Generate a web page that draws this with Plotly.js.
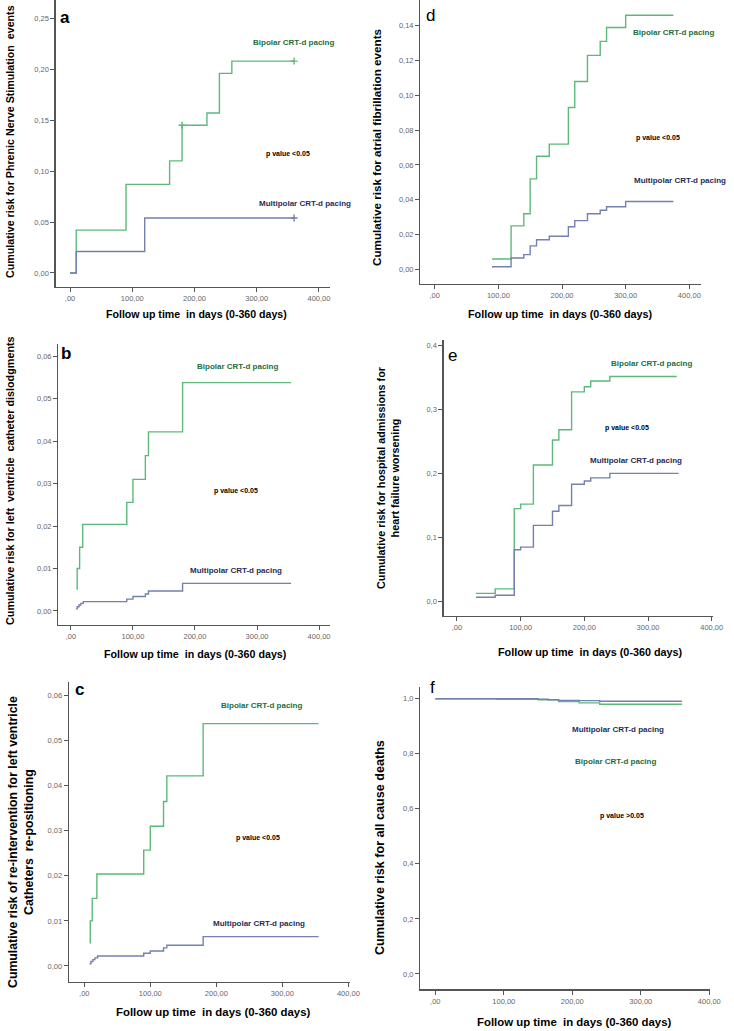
<!DOCTYPE html>
<html>
<head>
<meta charset="utf-8">
<script src="https://cdn.plot.ly/plotly-3.0.1.min.js"></script>
<style>
html,body{margin:0;padding:0;background:#fff;}
#chart{width:734px;height:1031px;}
</style>
</head>
<body>
<div id="chart"></div>
<script>
// ---------- DATA ----------
const xTickVals = [0, 100, 200, 300, 400];
const xTickText = [",00", "100,00", "200,00", "300,00", "400,00"];

// Panel a: phrenic nerve stimulation
const aBipolarDays = [0, 10, 90, 160, 180, 220, 240, 260, 360];
const aBipolarRisk = [0, 0.042, 0.087, 0.110, 0.145, 0.157, 0.196, 0.208, 0.208];
const aMultiDays = [0, 10, 120, 360];
const aMultiRisk = [0, 0.021, 0.054, 0.054];
const aBipolarCensorDays = [180, 360];
const aBipolarCensorRisk = [0.145, 0.208];
const aMultiCensorDays = [360];
const aMultiCensorRisk = [0.054];
const aYTickVals = [0, 0.05, 0.10, 0.15, 0.20, 0.25];
const aYTickText = ["0,00", "0,05", "0,10", "0,15", "0,20", "0,25"];

// Panel d: atrial fibrillation
const dBipolarDays = [90, 120, 140, 150, 160, 180, 210, 220, 240, 260, 270, 300, 375];
const dBipolarRisk = [0.006, 0.025, 0.032, 0.052, 0.065, 0.072, 0.093, 0.108, 0.123, 0.131, 0.139, 0.146, 0.146];
const dMultiDays = [90, 120, 140, 150, 160, 180, 210, 220, 240, 260, 270, 300, 375];
const dMultiRisk = [0.0015, 0.0065, 0.0085, 0.0135, 0.017, 0.019, 0.0245, 0.028, 0.032, 0.034, 0.036, 0.039, 0.039];
const dYTickVals = [0, 0.02, 0.04, 0.06, 0.08, 0.10, 0.12, 0.14];
const dYTickText = ["0,00", "0,02", "0,04", "0,06", "0,08", "0,10", "0,12", "0,14"];

// Panel b: LV catheter dislodgments
const bBipolarDays = [10, 10, 14, 19, 90, 100, 120, 125, 180, 355];
const bBipolarRisk = [0.005, 0.010, 0.015, 0.0204, 0.0256, 0.031, 0.0366, 0.0422, 0.0538, 0.0538];
const bMultiDays = [8, 10, 13, 16, 20, 90, 100, 120, 125, 180, 180, 355];
const bMultiRisk = [0.0005, 0.001, 0.0014, 0.0018, 0.0022, 0.0028, 0.0034, 0.004, 0.0047, 0.0058, 0.0065, 0.0065];
const bYTickVals = [0, 0.01, 0.02, 0.03, 0.04, 0.05, 0.06];
const bYTickText = ["0,00", "0,01", "0,02", "0,03", "0,04", "0,05", "0,06"];

// Panel c: re-intervention for LV catheter re-positioning
const cBipolarDays = [9, 9, 12, 19, 90, 100, 120, 125, 180, 355];
const cBipolarRisk = [0.005, 0.010, 0.015, 0.0204, 0.0257, 0.031, 0.0365, 0.0422, 0.0538, 0.0538];
const cMultiDays = [8, 10, 13, 16, 20, 90, 100, 120, 125, 180, 180, 355];
const cMultiRisk = [0.0005, 0.001, 0.0014, 0.0018, 0.0022, 0.0028, 0.0033, 0.004, 0.0046, 0.0058, 0.0065, 0.0065];
const cYTickVals = [0, 0.01, 0.02, 0.03, 0.04, 0.05, 0.06];
const cYTickText = ["0,00", "0,01", "0,02", "0,03", "0,04", "0,05", "0,06"];

// Panel e: hospital admissions for heart failure worsening
const eBipolarDays = [30, 60, 90, 100, 120, 150, 160, 180, 200, 210, 240, 345];
const eBipolarRisk = [0.013, 0.020, 0.145, 0.152, 0.213, 0.252, 0.268, 0.327, 0.335, 0.344, 0.351, 0.351];
const eMultiDays = [30, 60, 90, 100, 120, 150, 160, 180, 200, 210, 240, 348];
const eMultiRisk = [0.007, 0.010, 0.081, 0.085, 0.119, 0.141, 0.150, 0.183, 0.188, 0.193, 0.200, 0.200];
const eYTickVals = [0, 0.1, 0.2, 0.3, 0.4];
const eYTickText = ["0,0", "0,1", "0,2", "0,3", "0,4"];

// Panel f: all cause deaths
const fBipolarDays = [0, 90, 150, 180, 210, 240, 360];
const fBipolarRisk = [1.0, 0.998, 0.996, 0.990, 0.985, 0.980, 0.980];
const fMultiDays = [0, 150, 165, 180, 210, 240, 360];
const fMultiRisk = [1.0, 0.998, 0.996, 0.994, 0.993, 0.991, 0.991];
const fYTickVals = [0, 0.2, 0.4, 0.6, 0.8, 1.0];
const fYTickText = ["0,0", "0,2", "0,4", "0,6", "0,8", "1,0"];

// ---------- STYLE ----------
const W = 734, H = 1031;
const GREEN = "#5cb97a";
const BLUE = "#7480ad";
const GREEN_TXT = "#1d6e3e";
const BLUE_TXT = "#1f2d58";
const SANS = "'Liberation Sans', Arial, sans-serif";

function px2x(p) { return p / W; }
function px2y(p) { return 1 - p / H; }

const traces = [];
function stepTrace(idx, x, y, color, name) {
  traces.push({
    type: "scatter", mode: "lines", x: x, y: y, name: name,
    line: { shape: "hv", color: color, width: 1.4 },
    xaxis: "x" + (idx === 1 ? "" : idx), yaxis: "y" + (idx === 1 ? "" : idx),
    showlegend: false, hoverinfo: "x+y"
  });
}
function censorTrace(idx, x, y, color) {
  traces.push({
    type: "scatter", mode: "markers", x: x, y: y,
    marker: { symbol: "cross-thin", size: 5, line: { color: color, width: 1.4 } },
    xaxis: "x" + (idx === 1 ? "" : idx), yaxis: "y" + (idx === 1 ? "" : idx),
    showlegend: false, hoverinfo: "x+y"
  });
}

// panel index: a=1, d=2, b=3, e=4, c=5, f=6
stepTrace(1, aBipolarDays, aBipolarRisk, GREEN, "Bipolar CRT-d pacing");
stepTrace(1, aMultiDays, aMultiRisk, BLUE, "Multipolar CRT-d pacing");
censorTrace(1, aBipolarCensorDays, aBipolarCensorRisk, GREEN);
censorTrace(1, aMultiCensorDays, aMultiCensorRisk, BLUE);

stepTrace(2, dBipolarDays, dBipolarRisk, GREEN, "Bipolar CRT-d pacing");
stepTrace(2, dMultiDays, dMultiRisk, BLUE, "Multipolar CRT-d pacing");

stepTrace(3, bBipolarDays, bBipolarRisk, GREEN, "Bipolar CRT-d pacing");
stepTrace(3, bMultiDays, bMultiRisk, BLUE, "Multipolar CRT-d pacing");

stepTrace(4, eBipolarDays, eBipolarRisk, GREEN, "Bipolar CRT-d pacing");
stepTrace(4, eMultiDays, eMultiRisk, BLUE, "Multipolar CRT-d pacing");

stepTrace(5, cBipolarDays, cBipolarRisk, GREEN, "Bipolar CRT-d pacing");
stepTrace(5, cMultiDays, cMultiRisk, BLUE, "Multipolar CRT-d pacing");

stepTrace(6, fBipolarDays, fBipolarRisk, GREEN, "Bipolar CRT-d pacing");
stepTrace(6, fMultiDays, fMultiRisk, BLUE, "Multipolar CRT-d pacing");

// panel geometry in pixels: [left, right, top, bottom]
const panels = {
  1: { box: [55.7, 330, 0, 287], xr: [-23, 417.7], yr: [-0.0138, 0.268], yt: [aYTickVals, aYTickText] },
  2: { box: [420.3, 701.3, 0, 284], xr: [-22.6, 418.8], yr: [-0.0084, 0.1548], yt: [dYTickVals, dYTickText] },
  3: { box: [58.3, 330, 344, 625], xr: [-20.4, 417.7], yr: [-0.0033, 0.0629], yt: [bYTickVals, bYTickText] },
  4: { box: [443.7, 713, 340, 616], xr: [-20.8, 402], yr: [-0.0223, 0.4078], yt: [eYTickVals, eYTickText] },
  5: { box: [69, 350, 681.7, 981.7], xr: [-23.2, 402.5], yr: [-0.0035, 0.0631], yt: [cYTickVals, cYTickText] },
  6: { box: [420.3, 710.3, 686.7, 989.3], xr: [-21.9, 401.5], yr: [-0.0557, 1.0436], yt: [fYTickVals, fYTickText] }
};

const layout = {
  width: W, height: H,
  margin: { l: 0, r: 0, t: 0, b: 0, pad: 0 },
  paper_bgcolor: "#ffffff", plot_bgcolor: "#ffffff",
  showlegend: false,
  annotations: [],
  font: { family: SANS, color: "#000" }
};

const axisCommon = {
  showline: true, linecolor: "#555", linewidth: 1.3,
  showgrid: false, zeroline: false,
  ticks: "outside", ticklen: 4, tickwidth: 1, tickcolor: "#555",
  tickmode: "array",
  tickfont: { family: SANS, size: 7.5, color: "#666" },
  fixedrange: true
};

for (const k of Object.keys(panels)) {
  const p = panels[k];
  const sfx = k === "1" ? "" : k;
  layout["xaxis" + sfx] = Object.assign({}, axisCommon, {
    domain: [px2x(p.box[0]), px2x(p.box[1])],
    range: p.xr,
    anchor: "y" + sfx,
    tickvals: xTickVals, ticktext: xTickText
  });
  layout["yaxis" + sfx] = Object.assign({}, axisCommon, {
    domain: [px2y(p.box[3]), px2y(p.box[2])],
    range: p.yr,
    anchor: "x" + sfx,
    tickvals: p.yt[0], ticktext: p.yt[1]
  });
}

function ann(text, x, y, opt) {
  opt = opt || {};
  layout.annotations.push({
    text: text, xref: "paper", yref: "paper",
    x: px2x(x), y: px2y(y), xanchor: opt.xanchor || "center", yanchor: "middle",
    showarrow: false, textangle: opt.angle || 0,
    font: { family: opt.family || SANS, size: opt.size || 8, color: opt.color || "#000", weight: opt.weight || "bold" }
  });
}

const XT = "<b>Follow up time  in days (0-360 days)</b>";

// Panel a
ann("a", 65, 17, { size: 17 });
ann("<b>Bipolar CRT-d pacing</b>", 293, 43, { color: GREEN_TXT, size: 8 });
ann("<b>p value <0.05</b>", 288, 154, { size: 7 });
ann("<b>Multipolar CRT-d pacing</b>", 305, 203, { color: BLUE_TXT, size: 8 });
ann(XT, 196, 314, { size: 10.6 });
ann("<b>Cumulative risk for Phrenic Nerve Stimulation  events</b>", 10, 142, { size: 10.7, angle: -90 });

// Panel d
ann("d", 431, 16, { size: 17, weight: "normal" });
ann("<b>Bipolar CRT-d pacing</b>", 673, 33, { color: GREEN_TXT, size: 8 });
ann("<b>p value <0.05</b>", 658, 138, { size: 7 });
ann("<b>Multipolar CRT-d pacing</b>", 680, 180, { color: BLUE_TXT, size: 8 });
ann(XT, 560, 314, { size: 10.8 });
ann("<b>Cumulative risk for atrial fibrillation events</b>", 377, 147, { size: 11.7, angle: -90 });

// Panel b
ann("b", 66, 353, { size: 17 });
ann("<b>Bipolar CRT-d pacing</b>", 237, 366, { color: GREEN_TXT, size: 8 });
ann("<b>p value <0.05</b>", 236, 491, { size: 7 });
ann("<b>Multipolar CRT-d pacing</b>", 236, 570, { color: BLUE_TXT, size: 8 });
ann(XT, 195, 654, { size: 10.7 });
ann("<b>Cumulative risk for left  ventricle  catheter dislodgments</b>", 10, 481, { size: 10.8, angle: -90 });

// Panel e
ann("e", 453, 355, { size: 17, weight: "normal" });
ann("<b>Bipolar CRT-d pacing</b>", 651, 363, { color: GREEN_TXT, size: 8 });
ann("<b>p value <0.05</b>", 627, 428, { size: 7 });
ann("<b>Multipolar CRT-d pacing</b>", 636, 460, { color: BLUE_TXT, size: 8 });
ann(XT, 590, 652, { size: 10.8 });
ann("<b>Cumulative risk for hospital admissions for<br>heart failure worsening</b>", 388, 478, { size: 10.8, angle: -90 });

// Panel c
ann("c", 79, 689, { size: 17 });
ann("<b>Bipolar CRT-d pacing</b>", 261, 705, { color: GREEN_TXT, size: 8 });
ann("<b>p value <0.05</b>", 258, 838, { size: 7 });
ann("<b>Multipolar CRT-d pacing</b>", 259, 923, { color: BLUE_TXT, size: 8 });
ann(XT, 213, 1012, { size: 11.4 });
ann("<b>Cumulative risk of re-intervention for left ventricle<br>Catheters  re-positioning</b>", 21, 842, { size: 12.3, angle: -90 });

// Panel f
ann("f", 432, 687, { size: 17, weight: "normal" });
ann("<b>Multipolar CRT-d pacing</b>", 618, 729, { color: BLUE_TXT, size: 8 });
ann("<b>Bipolar CRT-d pacing</b>", 615, 761, { color: GREEN_TXT, size: 8 });
ann("<b>p value >0.05</b>", 622, 816, { size: 7 });
ann(XT, 574, 1022, { size: 11.4 });
ann("<b>Cumulative risk for all cause deaths</b>", 380, 848, { size: 12.6, angle: -90 });

Plotly.newPlot("chart", traces, layout, { staticPlot: true, displayModeBar: false });
</script>
</body>
</html>
